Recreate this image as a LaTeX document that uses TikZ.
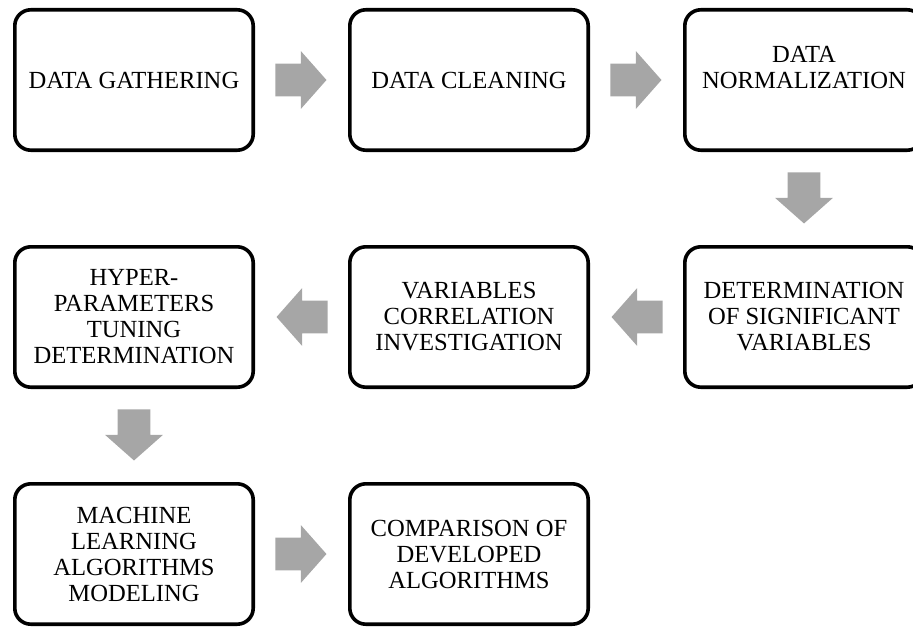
\documentclass[tikz,border=0pt]{standalone}
\usepackage{fontspec}
\setmainfont{Liberation Serif}
\usepackage{tikz}
\usetikzlibrary{positioning,shapes.arrows,calc}

\definecolor{arrgray}{RGB}{166,166,166}

\begin{document}
\begin{tikzpicture}[
  node distance=46.5pt and 46.5pt,
  stage/.style={draw, line width=1.8pt, rounded corners=8pt, minimum width=119.2pt,
    minimum height=70.2pt, align=center, font=\fontsize{12.3}{13}\selectfont, inner sep=0pt},
  fatarr/.style={single arrow, fill=arrgray, draw=none, inner sep=8pt, anchor=tip,
    minimum height=25.5pt, single arrow head extend=6.25pt,
    single arrow tip angle=97}
]
  % page frame
  \useasboundingbox (0,0) rectangle (456.5pt,-313pt);

  % first row
  \node[stage] (gather) at (67pt,-40pt) {DATA GATHERING};
  \node[stage, right=of gather] (clean) {DATA CLEANING};
  \node[stage, right=of clean] (norm) {DATA\\NORMALIZATION\\\mbox{}};

  % second row, runs right to left
  \node[stage, below=of norm] (signif) {DETERMINATION\\OF SIGNIFICANT\\VARIABLES};
  \node[stage, left=of signif] (correl) {VARIABLES\\CORRELATION\\INVESTIGATION};
  \node[stage, left=of correl] (hyper) {HYPER-\\PARAMETERS\\TUNING\\DETERMINATION};

  % third row
  \node[stage, below=of hyper] (model) {MACHINE\\LEARNING\\ALGORITHMS\\MODELING};
  \node[stage, right=of model] (compare) {COMPARISON OF\\DEVELOPED\\ALGORITHMS};

  % grey block arrows, tip half a length past the middle of each gap
  \node[fatarr] (a1) at ($(gather.east)!0.5!(clean.west)!12.75pt!(clean.west)$) {};
  \node[fatarr] (a2) at ($(clean.east)!0.5!(norm.west)!12.75pt!(norm.west)$) {};
  \node[fatarr, shape border rotate=270] (a3) at ($(norm.south)!0.5!(signif.north)!12.75pt!(signif.north)$) {};
  \node[fatarr, shape border rotate=180] (a4) at ($(signif.west)!0.5!(correl.east)!12.75pt!(correl.east)$) {};
  \node[fatarr, shape border rotate=180] (a5) at ($(correl.west)!0.5!(hyper.east)!12.75pt!(hyper.east)$) {};
  \node[fatarr, shape border rotate=270] (a6) at ($(hyper.south)!0.5!(model.north)!12.75pt!(model.north)$) {};
  \node[fatarr] (a7) at ($(model.east)!0.5!(compare.west)!12.75pt!(compare.west)$) {};
\end{tikzpicture}
\end{document}
